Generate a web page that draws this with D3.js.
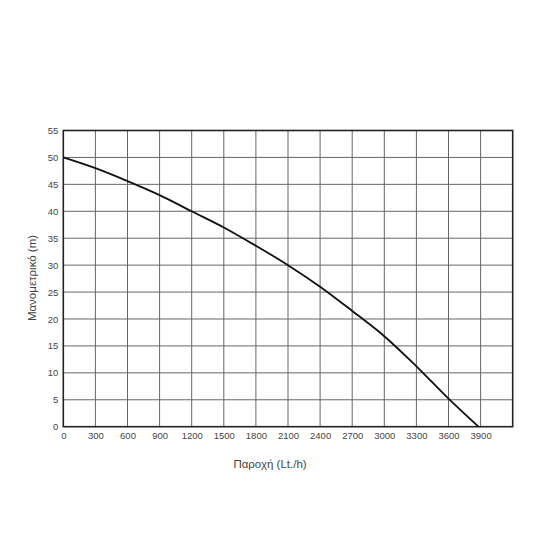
<!DOCTYPE html>
<html lang="el">
<head>
<meta charset="UTF-8">
<script src="https://d3js.org/d3.v7.min.js"></script>
<style>
  body { margin: 0; background: #fff; font-family: "Liberation Sans", Arial, sans-serif; }
</style>
</head>
<body>
<div id="chart"></div>
<script>
// curve
const flow = [0, 300, 600, 900, 1200, 1500, 1800, 2100, 2400, 2700, 3000, 3300, 3600, 3880];
const head = [50, 48, 45.6, 43, 40, 37, 33.6, 30, 26, 21.5, 16.8, 11.2, 5.2, 0];
const xTicks = [0, 300, 600, 900, 1200, 1500, 1800, 2100, 2400, 2700, 3000, 3300, 3600, 3900];
const yTicks = [0, 5, 10, 15, 20, 25, 30, 35, 40, 45, 50, 55];

const margin = {top: 130.5, left: 63.3};
const width = 449.4, height = 296.2;

const svg = d3.select("#chart").append("svg")
    .attr("width", 550).attr("height", 550);
const g = svg.append("g").attr("transform", `translate(${margin.left},${margin.top})`);

const x = d3.scaleLinear().domain([0, 4200]).range([0, width]);
const y = d3.scaleLinear().domain([0, 55]).range([height, 0]);

// grid
g.selectAll(".vg").data(d3.range(300, 4200, 300)).enter().append("line")
    .attr("x1", d => x(d)).attr("x2", d => x(d))
    .attr("y1", 0).attr("y2", height)
    .attr("stroke", "#666").attr("stroke-width", 1);
g.selectAll(".hg").data(yTicks.slice(1, -1)).enter().append("line")
    .attr("y1", d => y(d)).attr("y2", d => y(d))
    .attr("x1", 0).attr("x2", width)
    .attr("stroke", "#666").attr("stroke-width", 1);

g.append("rect").attr("width", width).attr("height", height)
    .attr("fill", "none").attr("stroke", "#222").attr("stroke-width", 1.6);

// axes
const xAxis = g.append("g").attr("transform", `translate(0,${height})`)
    .call(d3.axisBottom(x).tickValues(xTicks).tickFormat(d => d).tickSize(0).tickPadding(6));
const yAxis = g.append("g")
    .call(d3.axisLeft(y).tickValues(yTicks).tickSize(0).tickPadding(5));
[xAxis, yAxis].forEach(a => {
    a.select(".domain").remove();
    a.selectAll("text").attr("fill", "#444").style("font-size", "9.5px")
        .style("font-family", "'Liberation Sans', Arial, sans-serif");
});

// curve
const line = d3.line().x((d, i) => x(flow[i])).y(d => y(d)).curve(d3.curveCatmullRom);
g.append("path").datum(head)
    .attr("fill", "none").attr("stroke", "#111").attr("stroke-width", 1.8)
    .attr("d", line);

// labels
svg.append("text").attr("x", 270).attr("y", 468).attr("text-anchor", "middle")
    .attr("fill", "#444").style("font-size", "11.5px").text("Παροχή (Lt./h)");
svg.append("text").attr("transform", "translate(36,278) rotate(-90)")
    .attr("text-anchor", "middle").attr("fill", "#444").style("font-size", "11.5px")
    .text("Μανομετρικό  (m)");
</script>
</body>
</html>
